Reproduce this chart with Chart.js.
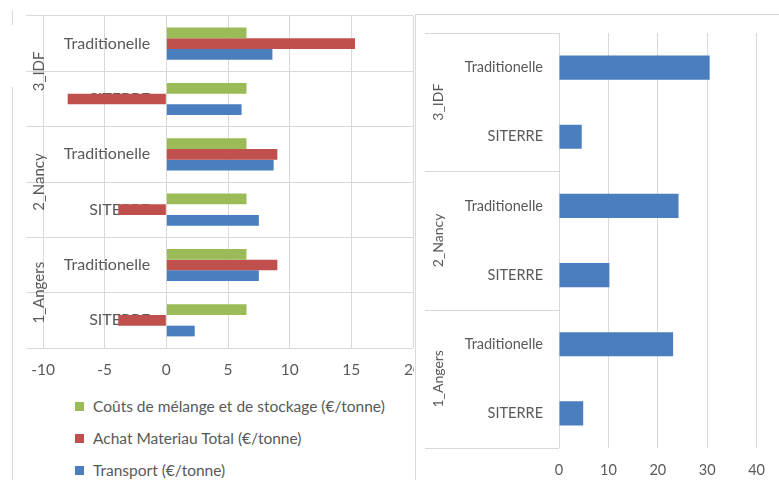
<!DOCTYPE html>
<html>
<head>
<meta charset="utf-8">
<script src="https://cdn.jsdelivr.net/npm/chart.js@4.4.1/dist/chart.umd.min.js"></script>
<style>
html,body{margin:0;padding:0;background:#fff;}
body{width:779px;height:480px;position:relative;overflow:hidden;font-family:Lato,sans-serif;}
#leftWrap{position:absolute;left:0;top:0;width:414px;height:480px;overflow:hidden;}
#leftWrap canvas{position:absolute;left:0;top:0;}
#rightWrap{position:absolute;left:415px;top:0;width:364px;height:480px;overflow:hidden;}
#rightWrap canvas{position:absolute;left:0;top:0;}
#legend{position:absolute;left:75px;top:390px;}
.li{display:flex;align-items:center;height:32px;font-size:15.5px;color:#595959;white-space:nowrap;}
.li .box{display:inline-block;width:9px;height:9px;margin-right:9px;}
.fr{position:absolute;background:#d9d9d9;}
</style>
</head>
<body>
<div id="leftWrap"><canvas id="leftChart" width="440" height="390"></canvas></div>
<div id="legend"></div>
<div id="rightWrap"><canvas id="rightChart" width="364" height="480"></canvas></div>
<div class="fr" style="left:12px;top:10px;width:1px;height:15px;"></div>
<div class="fr" style="left:12px;top:87px;width:1px;height:393px;"></div>
<div class="fr" style="left:415px;top:14px;width:1px;height:466px;"></div>
<div class="fr" style="left:415px;top:14px;width:364px;height:1px;"></div>
<script>
// ---- data ----
const groups = ['3_IDF', '2_Nancy', '1_Angers'];
const categories = ['Traditionelle', 'SITERRE', 'Traditionelle', 'SITERRE', 'Traditionelle', 'SITERRE'];
const seriesNames = ['Coûts de mélange et de stockage (€/tonne)', 'Achat Materiau Total (€/tonne)', 'Transport (€/tonne)'];
const melange = [6.5, 6.5, 6.5, 6.5, 6.5, 6.5];
const achat = [15.3, -8.0, 9.0, -3.9, 9.0, -3.9];
const transport = [8.6, 6.1, 8.7, 7.5, 7.5, 2.3];
const totalTransport = [30.5, 4.6, 24.2, 10.2, 23.1, 4.9];
const leftTicks = [-10, -5, 0, 5, 10, 15, 20];
const rightTicks = [0, 10, 20, 30, 40];

// ---- styles ----
const GREEN = '#9bbb59', RED = '#c0504d', BLUE = '#4a7ebf';
const TEXT = '#595959', GRID = '#d9d9d9';
Chart.defaults.font.family = 'Lato, sans-serif';
Chart.defaults.color = TEXT;

const groupAxis = {
  id: 'groupAxis',
  beforeDatasetsDraw(chart, args, opts) {
    const {ctx, chartArea} = chart;
    const y = chart.scales.y;
    const per = categories.length / groups.length;
    const half = (y.getPixelForValue(1) - y.getPixelForValue(0)) / 2;
    ctx.save();
    ctx.font = opts.font;
    ctx.fillStyle = TEXT;
    ctx.textAlign = 'center';
    ctx.textBaseline = 'middle';
    groups.forEach((g, i) => {
      const a = y.getPixelForValue(i * per), b = y.getPixelForValue(i * per + per - 1);
      ctx.save();
      ctx.translate(chartArea.left + opts.labelOffset, (a + b) / 2);
      ctx.rotate(-Math.PI / 2);
      ctx.fillText(g, 0, 0);
      ctx.restore();
    });
    if (opts.lines) {
      ctx.strokeStyle = GRID;
      ctx.lineWidth = 1;
      for (let i = 0; i <= groups.length; i++) {
        const py = Math.round(i < groups.length ? y.getPixelForValue(i * per) - half : y.getPixelForValue(categories.length - 1) + half) + 0.5;
        ctx.beginPath();
        ctx.moveTo(chartArea.left + opts.lineStart, py);
        ctx.lineTo(chartArea.left, py);
        ctx.stroke();
      }
    }
    ctx.restore();
  }
};

const htmlLegend = {
  id: 'htmlLegend',
  afterUpdate(chart, args, opts) {
    const el = document.getElementById(opts.containerID);
    el.innerHTML = '';
    chart.options.plugins.legend.labels.generateLabels(chart).forEach(item => {
      const row = document.createElement('div');
      row.className = 'li';
      const box = document.createElement('span');
      box.className = 'box';
      box.style.background = item.fillStyle;
      const t = document.createElement('span');
      t.textContent = item.text;
      row.append(box, t);
      el.append(row);
    });
  }
};

new Chart(document.getElementById('leftChart'), {
  type: 'bar',
  data: {
    labels: categories,
    datasets: [
      {label: seriesNames[0], data: melange, backgroundColor: GREEN},
      {label: seriesNames[1], data: achat, backgroundColor: RED},
      {label: seriesNames[2], data: transport, backgroundColor: BLUE}
    ]
  },
  options: {
    indexAxis: 'y',
    responsive: false,
    animation: false,
    categoryPercentage: 0.58,
    barPercentage: 1,
    layout: {padding: {left: 26, right: 27, top: 16, bottom: 12}},
    scales: {
      x: {
        type: 'linear', min: -11.38, max: 20,
        afterBuildTicks: s => { s.ticks = leftTicks.map(v => ({value: v})); },
        afterFit: s => { s.height = 30; },
        grid: {color: GRID, drawTicks: false},
        border: {display: false},
        ticks: {padding: 13, font: {size: 15.5}, color: TEXT}
      },
      y: {
        type: 'category',
        position: {x: -1.3},
        afterFit: s => { s.paddingTop = 0; s.paddingBottom = 0; },
        grid: {color: GRID, offset: true, drawTicks: false},
        border: {display: false},
        ticks: {padding: 0, font: {size: 16}, color: TEXT}
      }
    },
    plugins: {
      legend: {display: false},
      tooltip: {enabled: false},
      htmlLegend: {containerID: 'legend'},
      groupAxis: {font: '15px Lato, sans-serif', labelOffset: 13, lines: false}
    }
  },
  plugins: [groupAxis, htmlLegend]
});

new Chart(document.getElementById('rightChart'), {
  type: 'bar',
  data: {
    labels: categories,
    datasets: [
      {label: seriesNames[2], data: totalTransport, backgroundColor: BLUE}
    ]
  },
  options: {
    indexAxis: 'y',
    responsive: false,
    animation: false,
    categoryPercentage: 0.35,
    barPercentage: 1,
    layout: {padding: {left: 0, right: 22, top: 33, bottom: 2}},
    scales: {
      x: {
        type: 'linear', min: 0, max: 40,
        afterBuildTicks: s => { s.ticks = rightTicks.map(v => ({value: v})); },
        afterFit: s => { s.height = 30; },
        grid: {color: GRID, drawTicks: false},
        border: {display: false},
        ticks: {padding: 14, font: {size: 14.5}, color: TEXT}
      },
      y: {
        type: 'category',
        afterFit: s => { s.width = 144; },
        grid: {display: false, drawTicks: false},
        border: {display: false},
        ticks: {padding: 16, font: {size: 14.5}, color: TEXT}
      }
    },
    plugins: {
      legend: {display: false},
      tooltip: {enabled: false},
      groupAxis: {font: '14px Lato, sans-serif', labelOffset: -121, lines: true, lineStart: -134}
    }
  },
  plugins: [groupAxis]
});
</script>
</body>
</html>
